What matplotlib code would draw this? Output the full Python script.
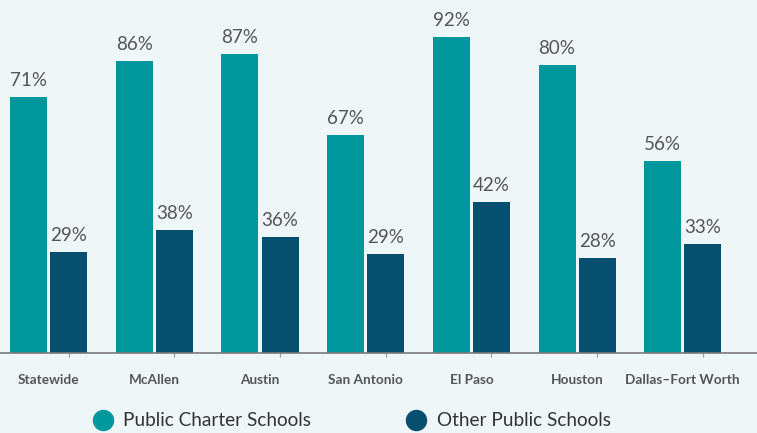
import matplotlib
matplotlib.use("Agg")
import matplotlib.pyplot as plt
import numpy as np
from matplotlib.lines import Line2D

categories = ["Statewide", "McAllen", "Austin", "San Antonio", "El Paso", "Houston", "Dallas\u2013Fort Worth"]
# labels as printed on the chart
charter_labels = [71, 86, 87, 67, 92, 80, 56]
other_labels = [29, 38, 36, 29, 42, 28, 33]
# bar heights as drawn in the source (they don't quite match the printed labels)
charter_bars = [74.5, 85, 87, 63.5, 92, 84, 56]
other_bars = [29.4, 35.8, 33.8, 28.8, 44, 27.7, 31.7]
series_names = ["Public Charter Schools", "Other Public Schools"]

teal = "#00979D"
navy = "#064F6E"
bg = "#EEF6F8"

plt.rcParams["font.family"] = ["Lato", "DejaVu Sans"]

fig = plt.figure(figsize=(7.57, 4.33), dpi=100, facecolor=bg)
ax = fig.add_axes([0, 80 / 433, 1, 353 / 433], facecolor=bg)

x = np.arange(len(categories))
w = 0.35
gap = 0.03
b1 = ax.bar(x - w / 2 - gap / 2, charter_bars, w, color=teal)
b2 = ax.bar(x + w / 2 + gap / 2, other_bars, w, color=navy)

for bars, vals in ((b1, charter_labels), (b2, other_labels)):
    for rect, v in zip(bars, vals):
        ax.text(rect.get_x() + rect.get_width() / 2, rect.get_height() + 2.3, f"{v}%",
                ha="center", va="bottom", fontsize=13.5, color="#555555")

ax.set_xlim(-0.46, 6.702)
ax.set_ylim(0, 102.8)
ax.set_yticks([])
for s in ("top", "right", "left"):
    ax.spines[s].set_visible(False)
ax.spines["bottom"].set_color("#7a7a7a")
ax.spines["bottom"].set_linewidth(1.2)

ax.set_xticks(x + 0.19)
ax.set_xticklabels([])
ax.tick_params(axis="x", length=3, color="#999999")
for xi, name in zip(x, categories):
    ax.text(xi, -8, name, ha="center", va="center", fontsize=9.8,
            color="#555555", fontweight="bold", clip_on=False)

handles = [Line2D([], [], marker="o", ls="", markersize=14.4, color=c) for c in (teal, navy)]
fig.legend(handles, series_names, loc="center", bbox_to_anchor=(0.465, 0.028),
           ncol=2, frameon=False, fontsize=13.7, columnspacing=5.0, handlelength=1,
           handletextpad=0.6, labelcolor="#333333")

fig.savefig("out.png", dpi=100, facecolor=bg)
